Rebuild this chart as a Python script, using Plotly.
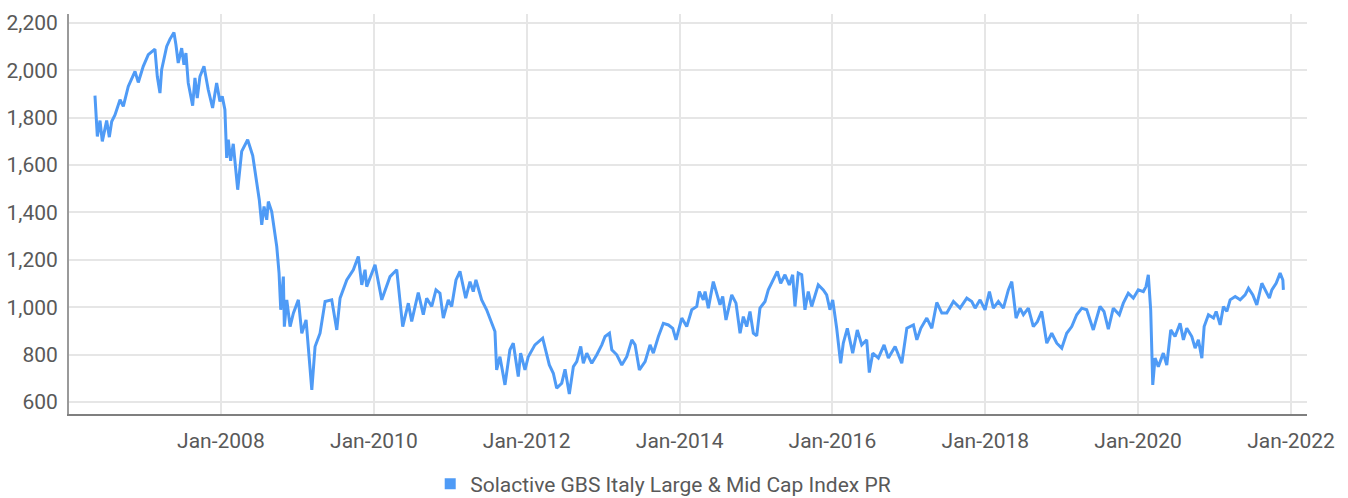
import pandas as pd
import plotly.graph_objects as go

# Observation times (decimal years) and index levels
years = [
    2006.351, 2006.382, 2006.417, 2006.447, 2006.504, 2006.539, 2006.570, 2006.613, 2006.679, 2006.722,
    2006.787, 2006.875, 2006.918, 2006.983, 2007.049, 2007.136, 2007.167, 2007.202, 2007.224, 2007.290,
    2007.333, 2007.385, 2007.411, 2007.441, 2007.486, 2007.516, 2007.542, 2007.572, 2007.630, 2007.660,
    2007.690, 2007.725, 2007.778, 2007.834, 2007.891, 2007.944, 2007.987, 2008.017, 2008.052, 2008.075,
    2008.096, 2008.127, 2008.161, 2008.219, 2008.271, 2008.349, 2008.415, 2008.458, 2008.501, 2008.533,
    2008.563, 2008.598, 2008.619, 2008.663, 2008.729, 2008.759, 2008.781, 2008.815, 2008.828, 2008.860,
    2008.903, 2008.946, 2009.011, 2009.056, 2009.112, 2009.187, 2009.230, 2009.295, 2009.361, 2009.448,
    2009.514, 2009.557, 2009.645, 2009.731, 2009.796, 2009.841, 2009.884, 2009.906, 2010.015, 2010.103,
    2010.211, 2010.299, 2010.377, 2010.451, 2010.495, 2010.581, 2010.647, 2010.691, 2010.757, 2010.813,
    2010.865, 2010.909, 2010.974, 2011.018, 2011.075, 2011.127, 2011.202, 2011.258, 2011.301, 2011.336,
    2011.411, 2011.476, 2011.542, 2011.585, 2011.607, 2011.650, 2011.716, 2011.781, 2011.825, 2011.890,
    2011.921, 2011.978, 2012.021, 2012.108, 2012.209, 2012.239, 2012.296, 2012.348, 2012.392, 2012.458,
    2012.501, 2012.557, 2012.610, 2012.654, 2012.706, 2012.740, 2012.785, 2012.850, 2012.916, 2012.981,
    2013.024, 2013.081, 2013.112, 2013.177, 2013.243, 2013.308, 2013.374, 2013.417, 2013.473, 2013.548,
    2013.613, 2013.656, 2013.722, 2013.787, 2013.853, 2013.910, 2013.953, 2014.028, 2014.093, 2014.159,
    2014.224, 2014.258, 2014.310, 2014.333, 2014.376, 2014.441, 2014.486, 2014.529, 2014.564, 2014.607,
    2014.682, 2014.738, 2014.791, 2014.834, 2014.878, 2014.921, 2014.965, 2015.009, 2015.052, 2015.118,
    2015.161, 2015.226, 2015.279, 2015.323, 2015.379, 2015.436, 2015.480, 2015.510, 2015.553, 2015.598,
    2015.641, 2015.684, 2015.729, 2015.815, 2015.881, 2015.925, 2015.968, 2016.004, 2016.056, 2016.108,
    2016.142, 2016.195, 2016.265, 2016.325, 2016.383, 2016.448, 2016.482, 2016.527, 2016.600, 2016.675,
    2016.731, 2016.819, 2016.906, 2016.972, 2017.058, 2017.103, 2017.155, 2017.233, 2017.299, 2017.364,
    2017.430, 2017.495, 2017.582, 2017.669, 2017.757, 2017.822, 2017.866, 2017.931, 2017.996, 2018.053,
    2018.105, 2018.170, 2018.236, 2018.301, 2018.346, 2018.402, 2018.454, 2018.498, 2018.563, 2018.628,
    2018.681, 2018.738, 2018.804, 2018.869, 2018.935, 2019.000, 2019.065, 2019.131, 2019.196, 2019.262,
    2019.327, 2019.413, 2019.501, 2019.553, 2019.610, 2019.675, 2019.754, 2019.806, 2019.871, 2019.937,
    2020.002, 2020.068, 2020.103, 2020.133, 2020.164, 2020.191, 2020.221, 2020.264, 2020.329, 2020.374,
    2020.426, 2020.482, 2020.548, 2020.591, 2020.635, 2020.701, 2020.744, 2020.787, 2020.832, 2020.862,
    2020.918, 2020.984, 2021.019, 2021.071, 2021.114, 2021.159, 2021.202, 2021.268, 2021.333, 2021.398,
    2021.442, 2021.499, 2021.551, 2021.617, 2021.673, 2021.716, 2021.748, 2021.804, 2021.856, 2021.892,
    2021.899,
]

index_level = [
    1893, 1721, 1788, 1700, 1788, 1718, 1784, 1812, 1876, 1848,
    1932, 1996, 1949, 2017, 2066, 2090, 1974, 1904, 2003, 2101,
    2132, 2160, 2108, 2031, 2094, 2024, 2073, 1947, 1851, 1968,
    1883, 1974, 2017, 1918, 1841, 1947, 1869, 1890, 1834, 1630,
    1707, 1618, 1690, 1496, 1658, 1707, 1640, 1538, 1453, 1348,
    1425, 1369, 1446, 1404, 1256, 1144, 989, 1129, 918, 1031,
    918, 975, 1031, 890, 946, 651, 834, 890, 1024, 1031,
    904, 1038, 1115, 1158, 1214, 1094, 1158, 1087, 1179, 1031,
    1129, 1158, 918, 1017, 940, 1062, 968, 1038, 1003, 1073,
    1059, 954, 1031, 1003, 1115, 1151, 1038, 1108, 1066, 1115,
    1031, 989, 932, 897, 735, 791, 672, 820, 848, 707,
    806, 735, 791, 841, 869, 827, 756, 721, 658, 679,
    738, 633, 749, 770, 834, 763, 806, 763, 799, 841,
    876, 890, 820, 799, 756, 791, 862, 841, 735, 770,
    841, 806, 876, 932, 925, 911, 862, 954, 918, 989,
    1003, 1066, 1031, 1066, 996, 1108, 1059, 1010, 1045, 946,
    1052, 1017, 890, 960, 918, 982, 890, 879, 996, 1024,
    1073, 1115, 1151, 1101, 1137, 1094, 1137, 1003, 1144, 1137,
    989, 1066, 1003, 1094, 1073, 1052, 989, 1031, 911, 763,
    848, 911, 806, 904, 841, 862, 724, 806, 785, 841,
    785, 834, 763, 911, 925, 862, 911, 954, 911, 1020,
    975, 975, 1024, 996, 1038, 1024, 996, 1031, 989, 1066,
    996, 1024, 996, 1073, 1108, 954, 996, 968, 996, 918,
    939, 982, 848, 890, 848, 827, 890, 918, 968, 996,
    989, 904, 1003, 982, 907, 996, 968, 1017, 1059, 1038,
    1073, 1066, 1087, 1137, 989, 672, 785, 749, 806, 756,
    904, 876, 932, 862, 911, 876, 827, 862, 785, 918,
    968, 954, 982, 925, 1003, 982, 1031, 1045, 1031, 1052,
    1080, 1052, 1010, 1101, 1066, 1038, 1073, 1101, 1144, 1115,
    1073,
]

y_ticks = [600, 800, 1000, 1200, 1400, 1600, 1800, 2000, 2200]
series_name = "Solactive GBS Italy Large & Mid Cap Index PR"

LINE_COLOR = "#4f9bf6"
TEXT_COLOR = "#595959"
GRID_COLOR = "#e6e6e6"
FONT = "Roboto, Noto Sans, sans-serif"
FONT_SIZE = 21


def to_timestamp(y):
    base = int(y)
    start = pd.Timestamp(year=base, month=1, day=1)
    end = pd.Timestamp(year=base + 1, month=1, day=1)
    return start + (end - start) * (y - base)


dates = [to_timestamp(y) for y in years]

fig = go.Figure()
fig.add_trace(go.Scatter(
    x=dates, y=index_level, mode="lines",
    line=dict(color=LINE_COLOR, width=3),
    showlegend=False, hoverinfo="x+y",
))
# legend entry drawn as a square swatch
fig.add_trace(go.Scatter(
    x=[None], y=[None], mode="markers", name=series_name,
    marker=dict(symbol="square", size=11, color=LINE_COLOR),
    showlegend=True,
))

fig.update_layout(
    width=1348, height=498,
    margin=dict(l=69, r=41, t=14, b=84, autoexpand=False),
    paper_bgcolor="white", plot_bgcolor="white",
    font=dict(family=FONT, size=FONT_SIZE, color=TEXT_COLOR),
    legend=dict(
        orientation="h",
        xref="container", x=0.492, xanchor="center",
        yref="container", y=0.028, yanchor="middle",
        font=dict(family=FONT, size=FONT_SIZE, color=TEXT_COLOR),
        itemwidth=30, tracegroupgap=0,
    ),
    xaxis=dict(
        type="date",
        range=["2006-01-05", "2022-03-18"],
        tick0="2008-01-01", dtick="M24", tickformat="%b-%Y",
        showgrid=True, gridcolor=GRID_COLOR, gridwidth=2,
        showline=True, linecolor="#7f7f7f", linewidth=2,
        ticks="", ticklabelstandoff=7,
        zeroline=False, automargin=False,
    ),
    yaxis=dict(
        range=[549, 2238],
        tickvals=y_ticks, tickformat=",",
        showgrid=True, gridcolor=GRID_COLOR, gridwidth=2,
        showline=True, linecolor="#9a9a9a", linewidth=2,
        ticks="", ticklabelstandoff=5,
        zeroline=False, automargin=False,
    ),
)

fig.write_html("out.html")
